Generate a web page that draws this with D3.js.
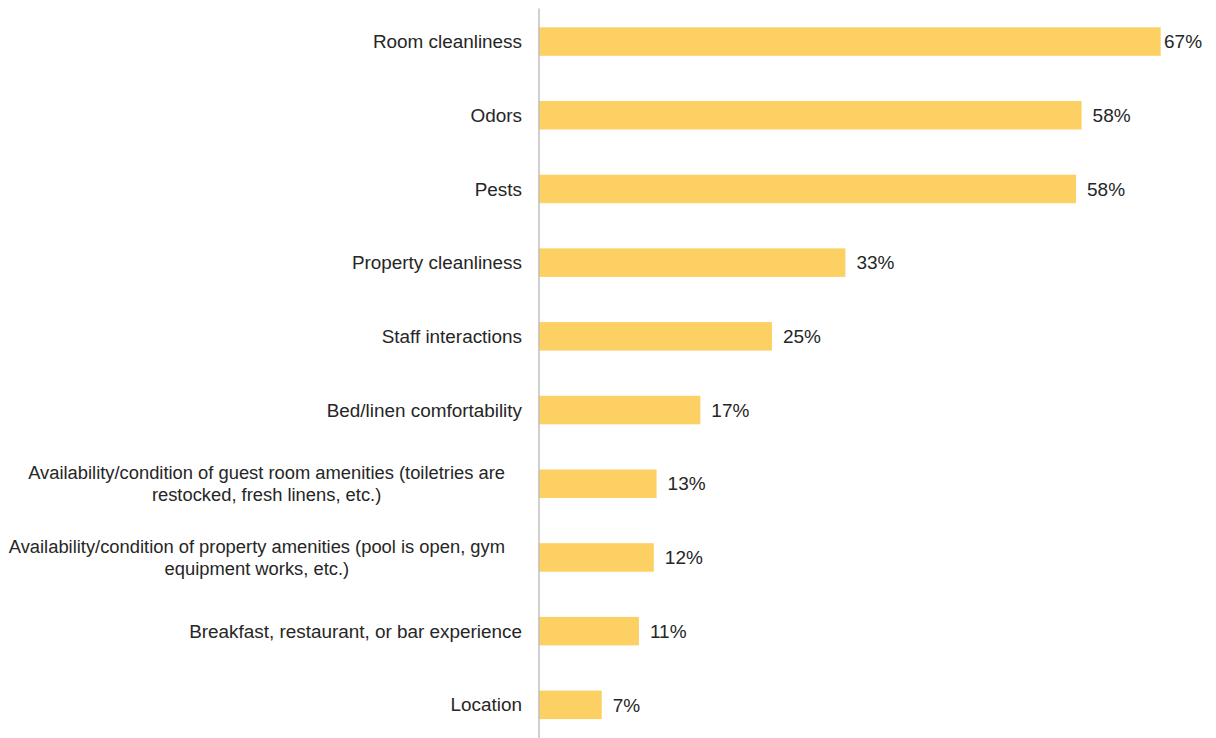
<!DOCTYPE html>
<html>
<head>
<meta charset="utf-8">
<script src="https://cdn.jsdelivr.net/npm/d3@7"></script>
<style>
  html, body { margin: 0; padding: 0; background: #ffffff; }
  svg { display: block; }
  text { font-family: "Liberation Sans", Arial, sans-serif; fill: #262626; }
</style>
</head>
<body>
<svg id="chart" width="1216" height="738"></svg>
<script>
// ---- data ----
const categories = [
  "Room cleanliness",
  "Odors",
  "Pests",
  "Property cleanliness",
  "Staff interactions",
  "Bed/linen comfortability",
  "Availability/condition of guest room amenities (toiletries are\nrestocked, fresh linens, etc.)",
  "Availability/condition of property amenities (pool is open, gym\nequipment works, etc.)",
  "Breakfast, restaurant, or bar experience",
  "Location"
];
const values = [66.9, 58.4, 57.8, 33.0, 25.1, 17.4, 12.7, 12.4, 10.8, 6.8];
const valueLabels = ["67%", "58%", "58%", "33%", "25%", "17%", "13%", "12%", "11%", "7%"];

// ---- layout ----
const W = 1216, H = 738;
const axisX = 538.5;
const svg = d3.select("#chart");

const x = d3.scaleLinear().domain([0, 100]).range([axisX, axisX + 930]);
const y = d3.scaleBand().domain(categories).range([4.7, 741.7])
  .paddingInner(0.613).paddingOuter(0.3065);

// bars
svg.append("g").selectAll("rect")
  .data(categories)
  .join("rect")
  .attr("x", x(0))
  .attr("y", d => y(d))
  .attr("width", (d, i) => x(values[i]) - x(0))
  .attr("height", y.bandwidth())
  .attr("fill", "#FDD063");

// vertical axis line
const axis = d3.axisLeft(d3.scaleLinear().domain([0, 1]).range([8, H]))
  .tickValues([]).tickSizeOuter(0);
svg.append("g")
  .attr("transform", `translate(${axisX},0)`)
  .call(axis)
  .call(g => g.select(".domain").attr("stroke", "#c0c0c0").attr("stroke-width", 1.5));

// category labels
const lg = svg.append("g");
categories.forEach(cat => {
  const lines = cat.split("\n");
  const cy = y(cat) + y.bandwidth() / 2;
  if (lines.length === 1) {
    lg.append("text")
      .attr("x", 522)
      .attr("y", cy)
      .attr("dy", "0.35em")
      .attr("text-anchor", "end")
      .style("font-size", "18.9px")
      .text(cat);
  } else {
    const t = lg.append("text")
      .attr("text-anchor", "middle")
      .style("font-size", "18.35px");
    const spans = lines.map((ln, j) => t.append("tspan")
      .attr("y", cy + (j - (lines.length - 1) / 2) * 22.5)
      .attr("dy", "0.35em")
      .text(ln));
    const maxW = d3.max(spans, s => s.node().getComputedTextLength());
    const cx = 505 - maxW / 2;
    spans.forEach(s => s.attr("x", cx));
  }
});

// value labels
svg.append("g").selectAll("text")
  .data(categories)
  .join("text")
  .attr("x", (d, i) => Math.min(x(values[i]) + 11, W - 52))
  .attr("y", d => y(d) + y.bandwidth() / 2)
  .attr("dy", "0.35em")
  .style("font-size", "19px")
  .text((d, i) => valueLabels[i]);
</script>
</body>
</html>
